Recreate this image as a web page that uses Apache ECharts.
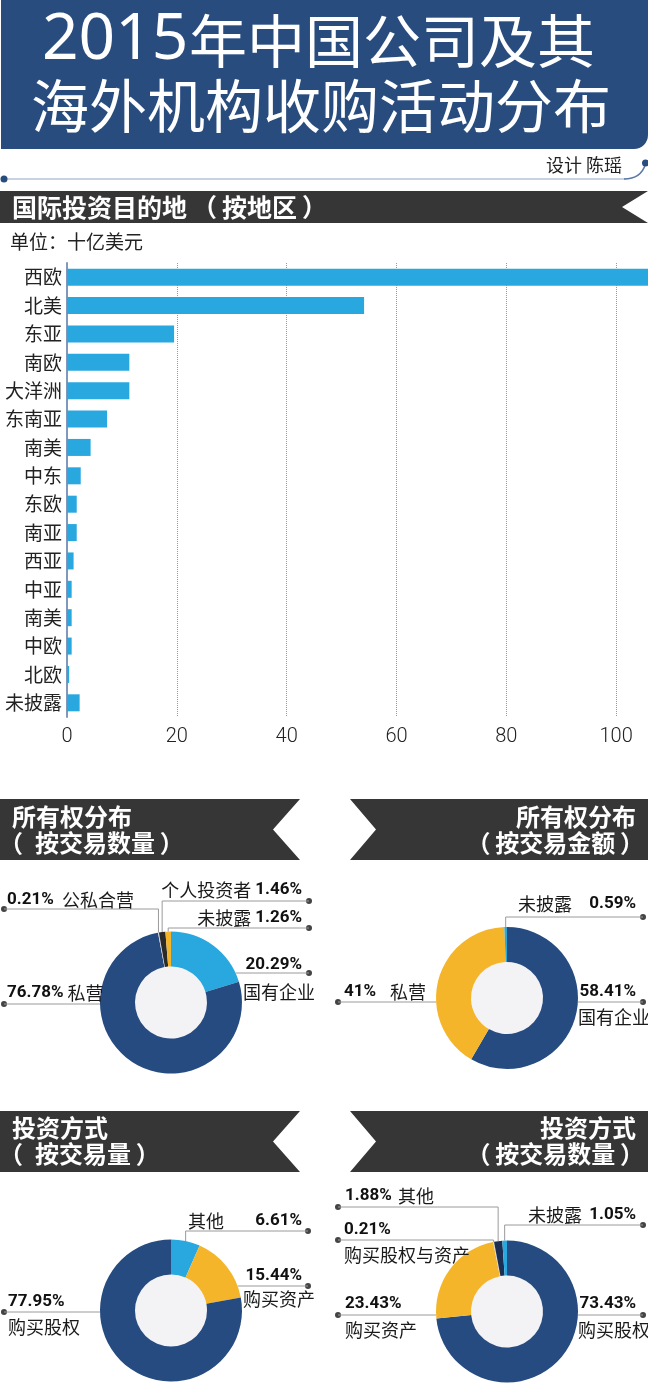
<!DOCTYPE html>
<html><head><meta charset="utf-8">
<script src="https://cdn.jsdelivr.net/npm/echarts@6/dist/echarts.min.js"></script>
<style>html,body{margin:0;padding:0;background:#fff}#c{width:648px;height:1395px}</style>
</head><body><div id="c"></div>
<script>
// ---------- DATA ----------
const regions = ['西欧','北美','东亚','南欧','大洋洲','东南亚','南美','中东','东欧','南亚','西亚','中亚','南美','中欧','北欧','未披露'];
const investValues = [106, 54.1, 19.5, 11.35, 11.35, 7.3, 4.3, 2.5, 1.77, 1.77, 1.2, 0.85, 0.85, 0.85, 0.4, 2.3];
const xTicks = [0, 20, 40, 60, 80, 100];

const ownCountNames = ['国有企业','私营','公私合营','个人投资者','未披露'];
const ownCountValues = [20.29, 76.78, 0.21, 1.46, 1.26];
const ownAmountNames = ['国有企业','私营','未披露'];
const ownAmountValues = [58.41, 41, 0.59];
const methodVolNames = ['其他','购买资产','购买股权'];
const methodVolValues = [6.61, 15.44, 77.95];
const methodCountNames = ['购买股权','购买资产','购买股权与资产','其他','未披露'];
const methodCountValues = [73.43, 23.43, 0.21, 1.88, 1.05];

// ---------- STYLE / LAYOUT ----------
const COL = {blue:'#29a8e0', navy:'#264b80', orange:'#f5b52b', black:'#2b2b2b', gray:'#d4d4d4', deep:'#1b2f52'};
const FONT_V = "Roboto";
const FONT_N = "'Noto Sans CJK SC'";
const V_SIZE = 17, N_SIZE = 18;
const R_OUT = 71, R_IN = 36;

const donuts = [
  {names: ownCountNames, values: ownCountValues, colors:[COL.blue, COL.navy, COL.gray, COL.black, COL.orange], cx:171, cy:1002.5,
   lay:[
     {tpl:'two', x:243, vr:302, y:965, L:27, lineY:973, dotX:309, mode:'edge'},
     {tpl:'vn', x:7, nx:63, y:993, lineY:1004, dotX:4, mode:'edge'},
     {tpl:'vn', x:7, nx:62, y:900, lineY:909, dotX:4, mode:'drop'},
     {tpl:'nv', nx:165, x:302, y:890, lineY:901, dotX:309, mode:'drop'},
     {tpl:'nv', nx:200, x:302, y:918, lineY:928, dotX:309, mode:'drop'}
   ]},
  {names: ownAmountNames, values: ownAmountValues, colors:[COL.navy, COL.orange, COL.blue], cx:507, cy:998,
   lay:[
     {tpl:'two', x:578, vr:636, y:992, L:25, lineY:1002, dotX:643, mode:'edge'},
     {tpl:'vn', x:344, nx:390, y:992, lineY:1002, dotX:338, mode:'edge'},
     {tpl:'nv', nx:518, x:636, y:904, lineY:917, dotX:643, mode:'drop'}
   ]},
  {names: methodVolNames, values: methodVolValues, colors:[COL.blue, COL.orange, COL.navy], cx:171, cy:1310.5,
   lay:[
     {tpl:'nv', nx:188, x:302, y:1221, lineY:1231, dotX:308, mode:'drop'},
     {tpl:'two', x:243, vr:302, y:1276, L:23, lineY:1286, dotX:308, mode:'edge'},
     {tpl:'two', x:8, y:1302, L:25, lineY:1312, dotX:4, mode:'edge'}
   ]},
  {names: methodCountNames, values: methodCountValues, colors:[COL.navy, COL.orange, COL.gray, COL.deep, COL.blue], cx:507, cy:1311.5,
   lay:[
     {tpl:'two', x:578, vr:636, y:1304, L:26, lineY:1315, dotX:643, mode:'edge'},
     {tpl:'two', x:345, y:1304, L:26, lineY:1315, dotX:338, mode:'edge'},
     {tpl:'two', x:344, y:1230, L:25, lineY:1240, dotX:338, mode:'drop'},
     {tpl:'vn', x:345, nx:398, y:1196, lineY:1207, dotX:338, mode:'drop'},
     {tpl:'nv', nx:528, x:636, y:1215, lineY:1225, dotX:643, mode:'drop'}
   ]}
];

const mctx = document.createElement('canvas').getContext('2d');
function tw(str, font) { mctx.font = font; return mctx.measureText(str).width; }
const V_FONT_STR = 'bold ' + V_SIZE + 'px ' + FONT_V;
const N_FONT_STR = N_SIZE + 'px ' + FONT_N;

function labelFor(name, value, L) {
  const vStr = value + '%';
  const lh = L.L || 22;
  const rich = {
    v: {fontFamily: FONT_V, fontWeight: 'bold', fontSize: V_SIZE, color: '#111', lineHeight: lh, align: 'left'},
    n: {fontFamily: FONT_N, fontSize: N_SIZE, color: '#1a1a1a', lineHeight: lh, align: 'left'}
  };
  const wv = tw(vStr, V_FONT_STR), wn = tw(name, N_FONT_STR);
  let fmt;
  if (L.tpl === 'two') {
    if (L.vr) rich.v.padding = [0, 0, 0, Math.max(0, L.vr - L.x - wv)];
    fmt = '{v|' + vStr + '}\n{n|' + name + '}';
  } else if (L.tpl === 'vn') {
    rich.n.padding = [0, 0, 0, Math.max(4, L.nx - L.x - wv)];
    fmt = '{v|' + vStr + '}{n|' + name + '}';
  } else {
    rich.n.padding = [0, Math.max(4, L.x - wv - L.nx - wn), 0, 0];
    fmt = '{n|' + name + '}{v|' + vStr + '}';
  }
  return {show: true, position: 'outside', formatter: fmt, rich: rich};
}

function linePoints(d, i, L) {
  let total = 0, cum = 0;
  d.values.forEach((v, k) => { total += v; if (k < i) cum += v; });
  if (L.mode === 'drop') {
    const th = (cum + d.values[i] / 2) / total * 2 * Math.PI;
    const x = d.cx + R_OUT * Math.sin(th), y = d.cy - R_OUT * Math.cos(th);
    return [[x, y], [x, L.lineY], [L.dotX, L.lineY]];
  }
  const side = L.dotX > d.cx ? 1 : -1;
  const dy = L.lineY - d.cy;
  const x = d.cx + side * Math.sqrt(R_OUT * R_OUT - dy * dy);
  return [[x, L.lineY], [x, L.lineY], [L.dotX, L.lineY]];
}

const pieSeries = donuts.map((d) => ({
  type: 'pie',
  center: [d.cx, d.cy],
  radius: [R_IN, R_OUT],
  startAngle: 90,
  clockwise: true,
  avoidLabelOverlap: false,
  silent: true,
  labelLine: {show: true, length: 10, length2: 10, lineStyle: {color: '#9a9a9a', width: 1}},
  labelLayout: function (p) {
    const L = d.lay[p.dataIndex];
    const two = L.tpl === 'two';
    return {
      x: L.x,
      y: two ? L.y - L.L / 2 : L.y,
      align: L.tpl === 'nv' ? 'right' : 'left',
      verticalAlign: two ? 'top' : 'middle',
      labelLinePoints: linePoints(d, p.dataIndex, L),
      hideOverlap: false
    };
  },
  data: d.names.map((n, i) => ({
    name: n, value: d.values[i],
    itemStyle: {color: d.colors[i]},
    label: labelFor(n, d.values[i], d.lay[i])
  }))
}));

// ---------- DECORATION ----------
const HEAD = '#363636';
const EN = '\u2002', THIN = '\u2009';
function leftHeader(y0, y1) {
  const m = (y0 + y1) / 2;
  return {type: 'polygon', shape: {points: [[0, y0], [300, y0], [273, m], [300, y1], [0, y1]]}, style: {fill: HEAD}};
}
function rightHeader(y0, y1) {
  const m = (y0 + y1) / 2;
  return {type: 'polygon', shape: {points: [[350, y0], [648, y0], [648, y1], [350, y1], [376, m]]}, style: {fill: HEAD}};
}
function htext(t, x, y, align) {
  return {type: 'text', x: x, y: y, style: {text: t, fill: '#fff', fontSize: 24, fontWeight: 'bold', fontFamily: FONT_N, align: align, verticalAlign: 'middle'}};
}

const graphics = [
  {type: 'rect', shape: {x: 1, y: 0, width: 647, height: 149, r: [0, 0, 14, 0]}, style: {fill: '#294c7f'}},
  {type: 'text', x: 42, y: 41, style: {text: '2015', fill: '#fff', fontSize: 64, fontFamily: "'Noto Sans',sans-serif", align: 'left', verticalAlign: 'middle'}},
  {type: 'text', x: 189, y: 41, style: {text: '年中国公司及其', fill: '#fff', fontSize: 58, fontFamily: FONT_N, align: 'left', verticalAlign: 'middle'}},
  {type: 'text', x: 321, y: 106, style: {text: '海外机构收购活动分布', fill: '#fff', fontSize: 58, fontFamily: FONT_N, align: 'center', verticalAlign: 'middle'}},
  {type: 'text', x: 622, y: 165, style: {text: '设计 陈瑶', fill: '#222', fontSize: 18, fontFamily: FONT_N, align: 'right', verticalAlign: 'middle'}},
  {type: 'line', shape: {x1: 4, y1: 179, x2: 626, y2: 179}, style: {stroke: '#c8d2e0', lineWidth: 2}},
  {type: 'bezierCurve', shape: {x1: 624, y1: 179, cpx1: 641, cpy1: 179, x2: 645.5, y2: 164}, style: {stroke: '#5a78a6', lineWidth: 1.5, fill: null}},
  {type: 'circle', shape: {cx: 4, cy: 179, r: 3.5}, style: {fill: '#294c7f'}},
  {type: 'circle', shape: {cx: 645.5, cy: 163, r: 3.5}, style: {fill: '#294c7f'}},
  {type: 'polygon', shape: {points: [[0, 191], [648, 191], [622, 207], [648, 223], [0, 223]]}, style: {fill: HEAD}},
  {type: 'text', x: 12, y: 207, style: {text: '国际投资目的地' + THIN + '（' + THIN + '按地区' + THIN + '）', fill: '#fff', fontSize: 25, fontWeight: 'bold', fontFamily: FONT_N, align: 'left', verticalAlign: 'middle'}},
  {type: 'text', x: 10, y: 242, style: {text: '单位：十亿美元', fill: '#222', fontSize: 19, fontFamily: FONT_N, align: 'left', verticalAlign: 'middle'}},
  leftHeader(799, 860), rightHeader(799, 860), leftHeader(1111, 1172), rightHeader(1111, 1172),
  htext('所有权分布', 12, 817, 'left'), htext('（' + EN + '按交易数量' + THIN + '）', -1, 843, 'left'),
  htext('所有权分布', 636, 817, 'right'), htext('（' + THIN + '按交易金额' + THIN + '）', 644, 843, 'right'),
  htext('投资方式', 12, 1128, 'left'), htext('（' + EN + '按交易量' + THIN + '）', -1, 1154, 'left'),
  htext('投资方式', 636, 1128, 'right'), htext('（' + THIN + '按交易数量' + THIN + '）', 644, 1154, 'right')
];
donuts.forEach(d => {
  graphics.push({type: 'circle', shape: {cx: d.cx, cy: d.cy, r: R_IN}, style: {fill: '#f3f2f4'}});
  d.lay.forEach(L => graphics.push({type: 'circle', shape: {cx: L.dotX, cy: L.lineY, r: 3}, style: {fill: '#444'}}));
});

// ---------- CHART ----------
const chart = echarts.init(document.getElementById('c'), null, {renderer: 'canvas'});
chart.setOption({
  animation: false,
  backgroundColor: '#fff',
  grid: {left: 67, right: 0, top: 263, height: 454, containLabel: false},
  xAxis: {
    type: 'value', min: 0, max: 105.8, interval: 20,
    axisLine: {show: false}, axisTick: {show: false},
    splitLine: {show: true, lineStyle: {type: 'dotted', color: '#9a9a9a', width: 1}},
    axisLabel: {fontSize: 20, color: '#222', fontFamily: 'Roboto', fontWeight: 300, margin: 10, showMaxLabel: false,
      formatter: v => xTicks.indexOf(v) >= 0 ? String(v) : ''}
  },
  yAxis: {
    type: 'category', inverse: true, data: regions,
    axisLine: {show: true, lineStyle: {color: '#7f98bb', width: 2}},
    axisTick: {show: false},
    axisLabel: {fontSize: 19, color: '#222', fontFamily: FONT_N, margin: 5}
  },
  graphic: graphics,
  series: [
    {type: 'bar', data: investValues, barWidth: 17, itemStyle: {color: COL.blue}, silent: true}
  ].concat(pieSeries)
});
</script>
</body></html>
